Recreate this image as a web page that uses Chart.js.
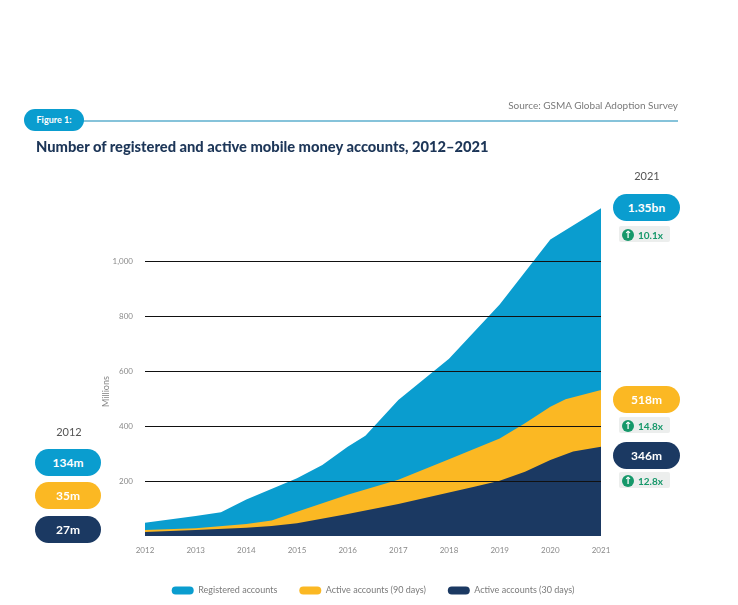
<!DOCTYPE html>
<html>
<head>
<meta charset="utf-8">
<script src="https://cdn.jsdelivr.net/npm/chart.js@4.4.1/dist/chart.umd.min.js"></script>
<style>
  html, body { margin:0; padding:0; background:#fff; }
  body { width:738px; height:605px; position:relative; overflow:hidden; font-family:"Lato","Open Sans",sans-serif; }
  #c { position:absolute; left:0; top:0; }
  .abs { position:absolute; }
  .pill { position:absolute; border-radius:14px; color:#fff; font-weight:700; font-size:12px; text-align:center; font-family:"Lato",sans-serif; }
  .badge { position:absolute; background:#eceeed; border-radius:2px; color:#16986a; font-weight:700; font-size:10px; font-family:"Lato",sans-serif; }
  .badge .ico { display:inline-block; width:12px; height:12px; border-radius:50%; background:#16986a; color:#fff; font-size:10px; line-height:12px; text-align:center; vertical-align:middle; margin:0 4px 0 3px; font-family:"DejaVu Sans",sans-serif; font-weight:700; }
  .badge .t { vertical-align:middle; }
</style>
</head>
<body>
<canvas id="c" width="738" height="605"></canvas>

<div class="abs" style="right:60px; top:99px; font-size:10px; color:#7a7a7a; font-family:'Lato',sans-serif;">Source: GSMA Global Adoption Survey</div>
<div class="abs" style="left:83px; top:120px; width:595px; height:1.5px; background:#86c3da;"></div>
<div class="pill" style="left:24px; top:109px; width:60px; height:22px; line-height:22px; background:#0a9dcf; font-size:9px; border-radius:11px;">Figure 1:</div>
<div class="abs" style="left:36px; top:137px; font-size:14.7px; font-weight:900; color:#1d3658; font-family:'Lato',sans-serif;">Number of registered and active mobile money accounts, 2012–2021</div>

<div class="abs" style="left:622px; top:169px; width:50px; text-align:center; font-size:11px; color:#555;" id="yr21"></div>
<div class="abs" style="left:44px; top:425px; width:50px; text-align:center; font-size:11px; color:#555;" id="yr12"></div>
<div class="abs" style="left:100px; top:407px; font-size:9px; color:#888; transform:rotate(-90deg); transform-origin:left top;">Millions</div>

<div id="overlay"></div>

<script>
// ---- data ----
const regX   = [2012, 2013, 2013.5, 2014, 2015, 2015.5, 2016, 2016.35, 2017, 2018, 2019, 2020, 2021];
const regY   = [48, 73, 86, 133, 210, 258, 325, 365, 495, 645, 842, 1078, 1192];
const act90X = [2012, 2013, 2014, 2014.5, 2015, 2016, 2017, 2018, 2019, 2019.5, 2020, 2020.3, 2021];
const act90Y = [22, 28, 44, 56, 88, 150, 205, 279, 355, 410, 470, 497, 531];
const act30X = [2012, 2013, 2014, 2014.5, 2015, 2016, 2017, 2018, 2018.5, 2019, 2019.5, 2020, 2020.45, 2021];
const act30Y = [15, 22, 30, 36, 46, 80, 116, 158, 179, 201, 234, 276, 307, 325];
const seriesNames = ["Registered accounts", "Active accounts (90 days)", "Active accounts (30 days)"];
const yearTicks = [2012, 2013, 2014, 2015, 2016, 2017, 2018, 2019, 2020, 2021];
const valueTicks = [200, 400, 600, 800, 1000];
const labels2012 = ["134m", "35m", "27m"];
const labels2021 = ["1.35bn", "518m", "346m"];
const growth2021 = ["10.1x", "14.8x", "12.8x"];
const yearLabels = ["2012", "2021"];

const colors = ["#0a9dcf", "#fbb823", "#1b3962"];

function pts(xs, ys) { return xs.map((x, i) => ({ x: x, y: ys[i] })); }

// overlays (text)
document.getElementById('yr12').textContent = yearLabels[0];
document.getElementById('yr21').textContent = yearLabels[1];
const ov = document.getElementById('overlay');
const leftTops = [449, 482, 516];
labels2012.forEach((t, i) => {
  const d = document.createElement('div');
  d.className = 'pill';
  d.style.cssText = `left:35px; top:${leftTops[i]}px; width:66px; height:27px; line-height:27px; background:${colors[i]};`;
  d.textContent = t; ov.appendChild(d);
});
const rightTops = [194, 386, 442];
const badgeTops = [226, 417, 472];
labels2021.forEach((t, i) => {
  const d = document.createElement('div');
  d.className = 'pill';
  d.style.cssText = `left:613px; top:${rightTops[i]}px; width:67px; height:27px; line-height:27px; background:${colors[i]};`;
  d.textContent = t; ov.appendChild(d);
  const b = document.createElement('div');
  b.className = 'badge';
  b.style.cssText = `left:619px; top:${badgeTops[i]}px; width:51px; height:16px; line-height:16px;`;
  b.innerHTML = `<span class="ico">&#8593;</span><span class="t">${growth2021[i]}</span>`;
  ov.appendChild(b);
});

new Chart(document.getElementById('c'), {
  type: 'line',
  data: {
    datasets: [
      { label: seriesNames[0], data: pts(regX, regY), backgroundColor: colors[0], borderColor: colors[0], borderWidth: 0, pointRadius: 0, fill: 'origin', order: 3 },
      { label: seriesNames[1], data: pts(act90X, act90Y), backgroundColor: colors[1], borderColor: colors[1], borderWidth: 0, pointRadius: 0, fill: 'origin', order: 2 },
      { label: seriesNames[2], data: pts(act30X, act30Y), backgroundColor: colors[2], borderColor: colors[2], borderWidth: 0, pointRadius: 0, fill: 'origin', order: 1 }
    ]
  },
  options: {
    responsive: false,
    animation: false,
    devicePixelRatio: 1,
    layout: { padding: { left: 90, right: 82, top: 206, bottom: 0 } },
    plugins: {
      tooltip: { enabled: false },
      legend: {
        position: 'bottom',
        labels: {
          sort: (a, b) => a.datasetIndex - b.datasetIndex,
          boxWidth: 22, boxHeight: 8, useBorderRadius: true, borderRadius: 4,
          padding: 22, color: '#7a7a7a',
          font: { family: 'Lato', size: 9 }
        }
      }
    },
    scales: {
      x: {
        type: 'linear', min: 2012, max: 2021,
        afterBuildTicks: s => { s.ticks = yearTicks.map(v => ({ value: v })); },
        afterFit: s => { s.height = 28; },
        grid: { display: false, drawTicks: false },
        border: { display: false },
        ticks: { padding: 10, color: '#8a8a8a', font: { family: 'Lato', size: 8 }, callback: v => String(v), maxRotation: 0, autoSkip: false }
      },
      y: {
        min: 0, max: 1200,
        afterBuildTicks: s => { s.ticks = valueTicks.map(v => ({ value: v })); },
        afterFit: s => { s.width = 55; },
        grid: { color: '#111', lineWidth: 1, drawTicks: false, z: 1 },
        border: { display: false },
        ticks: { padding: 12, color: '#8a8a8a', font: { family: 'Lato', size: 8 }, callback: v => v.toLocaleString('en-US') }
      },
      yRight: {
        position: 'right', min: 0, max: 1200,
        afterFit: s => { s.width = 55; },
        grid: { display: false, drawTicks: false },
        border: { display: false },
        ticks: { display: false }
      }
    }
  }
});
</script>
</body>
</html>
